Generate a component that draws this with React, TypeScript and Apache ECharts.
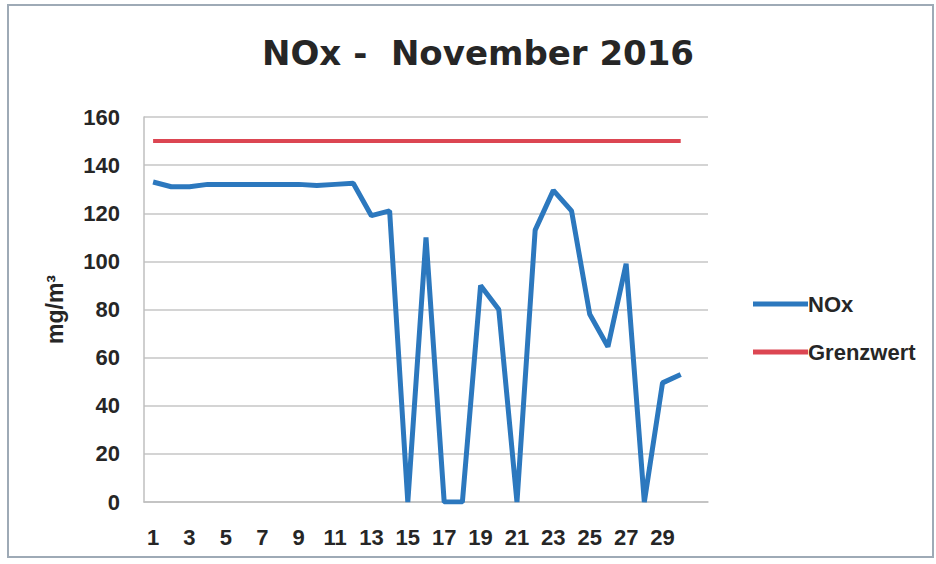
import React, { useEffect, useRef } from "react";
import * as echarts from "echarts";

const days = ["1","2","3","4","5","6","7","8","9","10","11","12","13","14","15","16","17","18","19","20","21","22","23","24","25","26","27","28","29","30",""];
const noxValues = [133,131,131,132,132,132,132,132,132,131.5,132,132.5,119,121,0,110,0,0,90,80,0,113,129.5,121,78,64.5,99,0,49.5,53];
const grenzwertValues = [150,150,150,150,150,150,150,150,150,150,150,150,150,150,150,150,150,150,150,150,150,150,150,150,150,150,150,150,150,150];
const yMin = 0;
const yMax = 160;
const yStep = 20;

const FONT = "'Liberation Sans', Arial, sans-serif";
const TITLE_FONT = "'DejaVu Sans', 'Liberation Sans', sans-serif";

export default function App() {
  const ref = useRef<HTMLDivElement>(null);
  useEffect(() => {
    if (!ref.current) return;
    const chart = echarts.init(ref.current, null, { renderer: "svg" });
    chart.setOption({
      animation: false,
      backgroundColor: "#ffffff",
      title: {
        text: "NOx -  November 2016",
        left: 473,
        top: 31,
        textAlign: "center",
        textStyle: { fontFamily: TITLE_FONT, fontWeight: "bold", fontSize: 34, color: "#262626" },
      },
      graphic: [
        {
          type: "rect",
          shape: { x: 8, y: 5, width: 925, height: 552 },
          style: { fill: "none", stroke: "#9eaab6", lineWidth: 2 },
          silent: true,
        },
      ],
      legend: {
        orient: "vertical",
        left: 748,
        top: 288,
        itemWidth: 55,
        itemHeight: 5,
        itemGap: 26,
        icon: "rect",
        textStyle: { fontFamily: FONT, fontWeight: "bold", fontSize: 22, color: "#262626", padding: [0, 0, 0, -5] },
        data: ["NOx", "Grenzwert"],
      },
      grid: { left: 144, right: 228, top: 117, bottom: 62 },
      xAxis: {
        type: "category",
        data: days,
        boundaryGap: true,
        axisLine: { show: true, lineStyle: { color: "#bfbfbf", width: 1.5 } },
        axisTick: { show: false },
        axisLabel: {
          interval: 1,
          margin: 24,
          fontFamily: FONT,
          fontWeight: "bold",
          fontSize: 22,
          color: "#262626",
        },
        splitLine: { show: false },
      },
      yAxis: {
        type: "value",
        min: yMin,
        max: yMax,
        interval: yStep,
        name: "mg/m³",
        nameLocation: "middle",
        nameGap: 78,
        nameTextStyle: { fontFamily: FONT, fontWeight: "bold", fontSize: 23, color: "#262626" },
        axisLine: { show: true, lineStyle: { color: "#bfbfbf", width: 1.5 } },
        axisTick: { show: false },
        axisLabel: {
          margin: 24,
          fontFamily: FONT,
          fontWeight: "bold",
          fontSize: 22,
          color: "#262626",
        },
        splitLine: { show: true, lineStyle: { color: "#c6c6c6", width: 1.5 } },
      },
      series: [
        {
          name: "NOx",
          type: "line",
          data: noxValues,
          symbol: "none",
          color: "#2c78be",
          lineStyle: { color: "#2c78be", width: 5 },
          z: 3,
        },
        {
          name: "Grenzwert",
          type: "line",
          data: grenzwertValues,
          symbol: "none",
          color: "#dc4652",
          lineStyle: { color: "#dc4652", width: 4 },
          z: 2,
        },
      ],
    });
    return () => chart.dispose();
  }, []);
  return <div ref={ref} style={{ position: "fixed", left: 0, top: 0, width: 936, height: 564 }} />;
}
